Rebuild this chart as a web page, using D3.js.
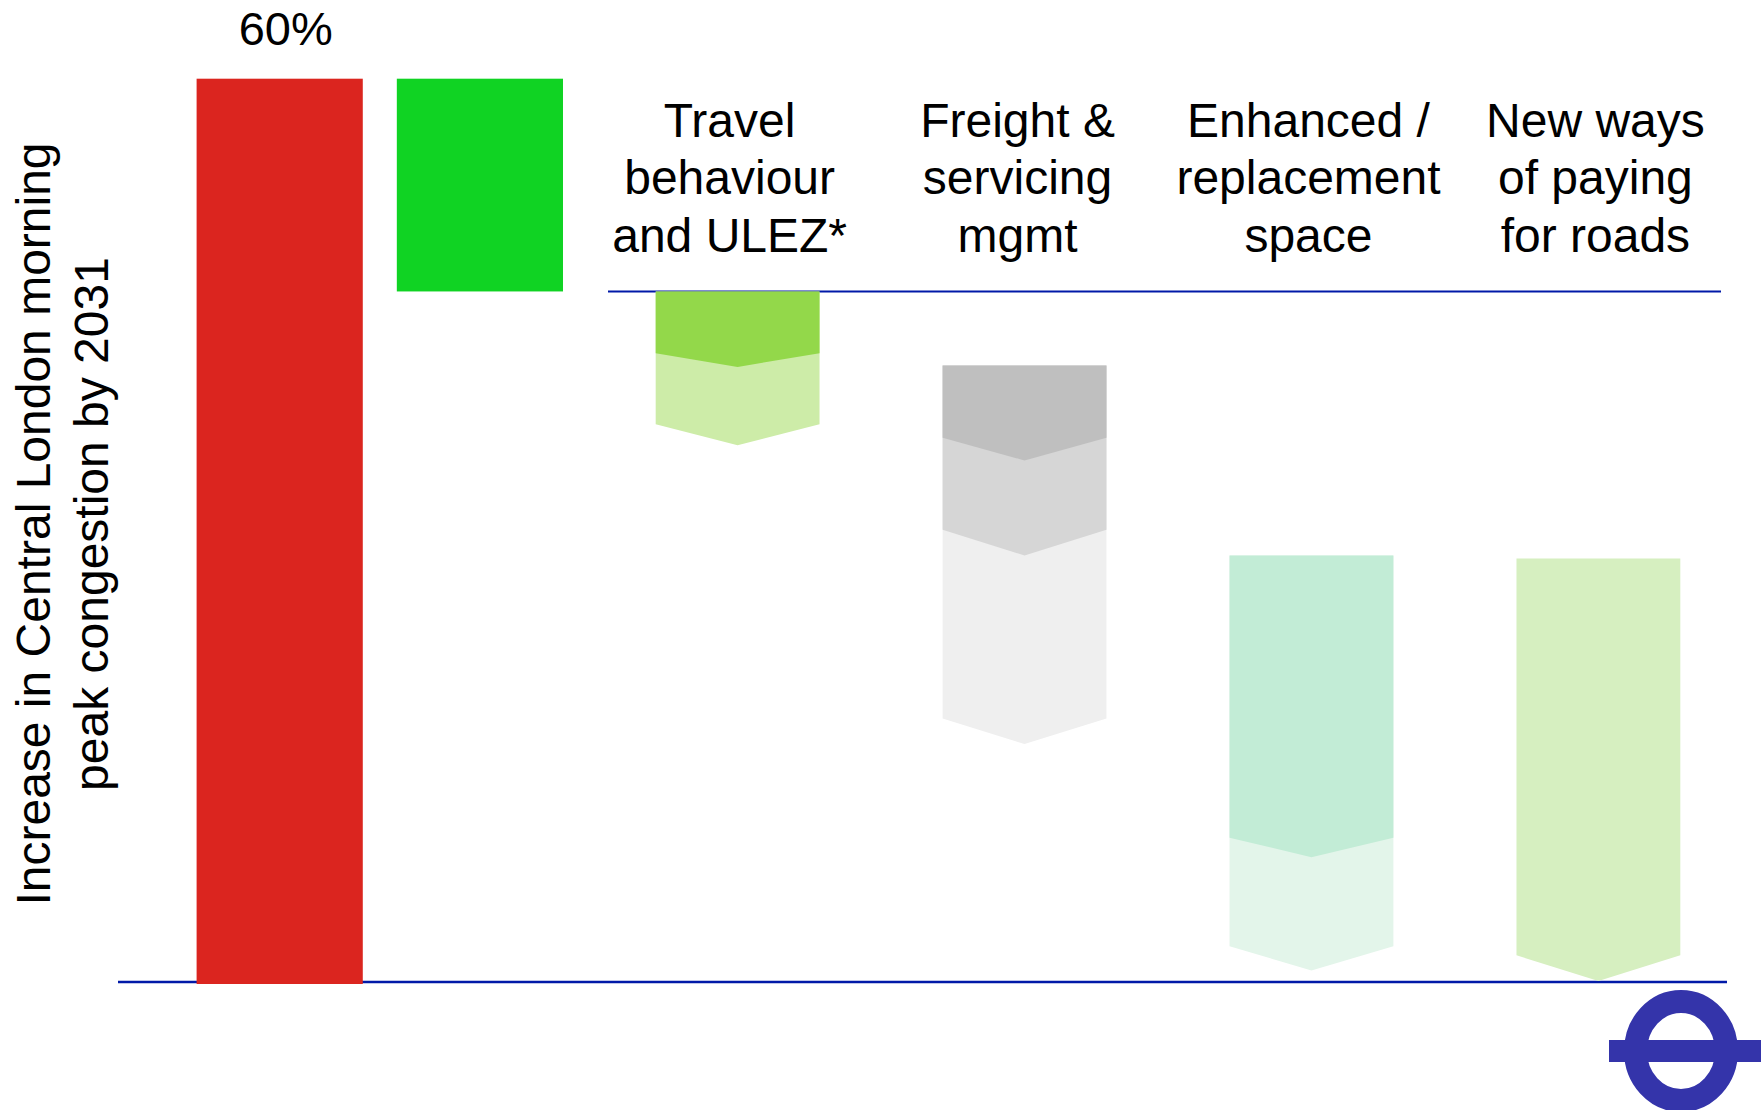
<!DOCTYPE html>
<html>
<head>
<meta charset="utf-8">
<script src="https://cdn.jsdelivr.net/npm/d3@7"></script>
<style>
  html, body { margin: 0; padding: 0; background: #fff; }
  svg { display: block; font-family: "Liberation Sans", Arial, sans-serif; }
</style>
</head>
<body>
<svg id="chart" width="1761" height="1110"></svg>
<script>
// values are % increase in morning peak congestion
const startBars = ["Increase", "Committed"];
const startFrom = [0, 45.9];
const startTo = [60, 60];
const startColors = ["#db251f", "#10d323"];

const levers = ["Travel behaviour and ULEZ*", "Freight & servicing mgmt", "Enhanced / replacement space", "New ways of paying for roads"];
const leverLabels = [
  ["Travel", "behaviour", "and ULEZ*"],
  ["Freight &", "servicing", "mgmt"],
  ["Enhanced /", "replacement", "space"],
  ["New ways", "of paying", "for roads"]
];
const leverTop = [45.9, 41.0, 28.4, 28.2];
// each lever is a stack of chevrons: flat side value and tip value
const leverFlat = [[41.8, 37.1], [36.2, 30.1, 17.6], [9.7, 2.5], [1.9]];
const leverTip = [[40.9, 35.7], [34.7, 28.4, 15.9], [8.4, 0.9], [0.2]];
const leverColors = [
  ["#93d84a", "#cdeca8"],
  ["#bfbfbf", "#d6d6d6", "#efefef"],
  ["#c2ecd6", "#e3f5ea"],
  ["#d6efc0"]
];

const titleLines = ["Increase in Central London morning", "peak congestion by 2031"];
const topLabel = "60%";

const svg = d3.select("#chart");
const lineBlue = "#0019a8";

const y = d3.scaleLinear().domain([0, 60]).range([984, 78.7]);

const xStart = d3.scaleBand().domain(startBars).range([196.6, 563]).paddingInner(0.17);
const xLever = d3.scaleBand().domain(levers).range([594, 1742]).paddingInner(0.429).paddingOuter(0.215);

// axis lines
svg.append("line")
    .attr("x1", 118).attr("x2", 1727)
    .attr("y1", y(0) - 2).attr("y2", y(0) - 2)
    .attr("stroke", lineBlue).attr("stroke-width", 2.5);

svg.append("line")
    .attr("x1", 608).attr("x2", 1721)
    .attr("y1", y(leverTop[0])).attr("y2", y(leverTop[0]))
    .attr("stroke", lineBlue).attr("stroke-width", 2);

// first two bars
svg.selectAll("rect.start")
    .data(startBars)
    .enter().append("rect")
    .attr("class", "start")
    .attr("x", d => xStart(d))
    .attr("width", xStart.bandwidth())
    .attr("y", (d, i) => y(startTo[i]))
    .attr("height", (d, i) => y(startFrom[i]) - y(startTo[i]))
    .attr("fill", (d, i) => startColors[i]);

svg.append("text")
    .attr("x", xStart(startBars[0]) + xStart.bandwidth() / 2 + 6)
    .attr("y", y(startTo[0]) - 34)
    .attr("text-anchor", "middle")
    .attr("font-size", 47)
    .text(topLabel);

// lever chevrons, drawn bottom first so upper ones overlap
levers.forEach(function(name, i) {
    const x0 = xLever(name), w = xLever.bandwidth();
    const g = svg.append("g");
    const segs = leverFlat[i].map((f, j) => ({flat: f, tip: leverTip[i][j], color: leverColors[i][j]}));
    segs.slice().reverse().forEach(function(s) {
        const pts = [
            [x0, y(leverTop[i])],
            [x0 + w, y(leverTop[i])],
            [x0 + w, y(s.flat)],
            [x0 + w / 2, y(s.tip)],
            [x0, y(s.flat)]
        ];
        g.append("path")
            .attr("d", d3.line()(pts) + "Z")
            .attr("fill", s.color);
    });
});

// lever labels
const labelShift = [-8, -7, -3, -3];
levers.forEach(function(name, i) {
    const t = svg.append("text")
        .attr("text-anchor", "middle")
        .attr("font-size", 48);
    leverLabels[i].forEach(function(line, k) {
        t.append("tspan")
            .attr("x", xLever(name) + xLever.bandwidth() / 2 + labelShift[i])
            .attr("y", 137 + k * 57.4)
            .text(line);
    });
});

// y axis title
const title = svg.append("text")
    .attr("transform", "translate(0,524) rotate(-90)")
    .attr("text-anchor", "middle")
    .attr("font-size", 48);
titleLines.forEach(function(line, k) {
    title.append("tspan")
        .attr("x", 0)
        .attr("y", 50 + k * 57.6)
        .text(line);
});

// roundel
const logo = svg.append("g").attr("transform", "translate(1681,1051)");
logo.append("ellipse")
    .attr("rx", 45.5).attr("ry", 49.5)
    .attr("fill", "none")
    .attr("stroke", "#3434aa")
    .attr("stroke-width", 23);
logo.append("rect")
    .attr("x", -72).attr("y", -11)
    .attr("width", 152).attr("height", 22)
    .attr("fill", "#3434aa");
</script>
</body>
</html>
